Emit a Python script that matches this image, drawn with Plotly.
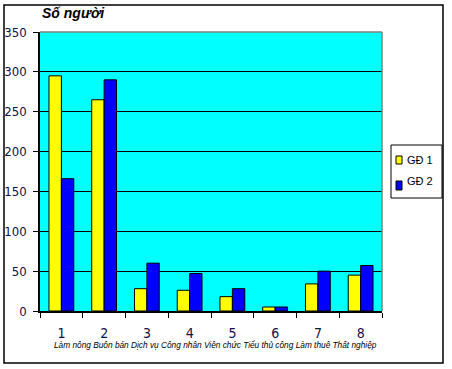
import plotly.graph_objects as go

categories = ["1", "2", "3", "4", "5", "6", "7", "8"]
gd1 = [295, 265, 28, 26, 18, 5, 34, 45]
gd2 = [166, 290, 60, 47, 28, 5, 50, 57]
series_names = ["GĐ 1", "GĐ 2"]
series_colors = ["#FFFF00", "#0000FF"]
y_ticks = [0, 50, 100, 150, 200, 250, 300, 350]
category_names = "Làm nông Buôn bán Dịch vụ Công nhân Viên chức Tiểu thủ công Làm thuê Thất nghiệp"
y_title = "Số người"

W, H = 452, 369
L, R, T, B = 40, 70, 32, 58
PW, PH = W - L - R, H - T - B

def px(x):
    return (x - L) / PW

def py(y):
    return (H - B - y) / PH

fig = go.Figure()
for name, vals, col in zip(series_names, [gd1, gd2], series_colors):
    fig.add_trace(go.Bar(x=categories, y=vals, name=name, marker_color=col,
                         marker_line_color="black", marker_line_width=1,
                         showlegend=False))

narrow = "Liberation Sans Narrow, Arial Narrow, DejaVu Sans Condensed, Liberation Sans, Arial"

shapes = [
    # outer border
    dict(type="rect", xref="paper", yref="paper", x0=px(4), x1=px(443), y0=py(363), y1=py(5),
         line=dict(color="black", width=1.5), layer="below"),
    # top/right grey plot border
    dict(type="line", xref="paper", yref="paper", x0=0, x1=1, y0=1, y1=1,
         line=dict(color="#808080", width=1.5)),
    dict(type="line", xref="paper", yref="paper", x0=1, x1=1, y0=0, y1=1,
         line=dict(color="#808080", width=1.5)),
    # legend box
    dict(type="rect", xref="paper", yref="paper", x0=px(391), x1=px(442), y0=py(198), y1=py(145),
         line=dict(color="black", width=1)),
    # legend swatches
    dict(type="rect", xref="paper", yref="paper", x0=px(396), x1=px(402), y0=py(164), y1=py(156),
         fillcolor=series_colors[0], line=dict(color="black", width=1)),
    dict(type="rect", xref="paper", yref="paper", x0=px(396), x1=px(402), y0=py(190), y1=py(181),
         fillcolor=series_colors[1], line=dict(color="black", width=1)),
]

annotations = [
    dict(text="<b><i>" + y_title + "</i></b>", xref="paper", yref="paper", x=0, y=py(13),
         xanchor="left", yanchor="middle", showarrow=False,
         font=dict(family="Liberation Sans, Arial", size=14, color="black")),
    dict(text="<i>" + category_names + "</i>", xref="paper", yref="paper", x=px(215.5), y=py(345.5),
         xanchor="center", yanchor="middle", showarrow=False,
         font=dict(family="Liberation Sans, Arial", size=8.3, color="black")),
    dict(text=series_names[0], xref="paper", yref="paper", x=px(405), y=py(159.5),
         xanchor="left", yanchor="middle", showarrow=False,
         font=dict(family="Liberation Sans, Arial", size=11, color="black")),
    dict(text=series_names[1], xref="paper", yref="paper", x=px(405), y=py(180.5),
         xanchor="left", yanchor="middle", showarrow=False,
         font=dict(family="Liberation Sans, Arial", size=11, color="black")),
]

fig.update_layout(
    width=W, height=H,
    margin=dict(l=L, r=R, t=T, b=B, pad=0, autoexpand=False),
    paper_bgcolor="white", plot_bgcolor="#00FFFF",
    barmode="group", bargap=0.42, bargroupgap=0,
    shapes=shapes, annotations=annotations,
    showlegend=False,
    xaxis=dict(type="category", tickson="boundaries", ticks="outside", ticklen=5,
               tickcolor="black", tickwidth=1, showline=True, linecolor="black", linewidth=1.5,
               showgrid=False, tickfont=dict(family=narrow, size=14, color="#10104a"),
               ticklabelstandoff=8, automargin=False),
    yaxis=dict(range=[0, 350], tickvals=y_ticks, ticks="outside", ticklen=5,
               tickcolor="black", tickwidth=1, showline=True, linecolor="black", linewidth=1.5,
               showgrid=True, gridcolor="black", gridwidth=1, zeroline=False,
               tickfont=dict(family=narrow, size=13, color="#10104a"), ticklabelstandoff=4,
               automargin=False),
)

fig.write_html("out.html", config={"displayModeBar": False},
               post_script="document.body.style.margin='0';")
